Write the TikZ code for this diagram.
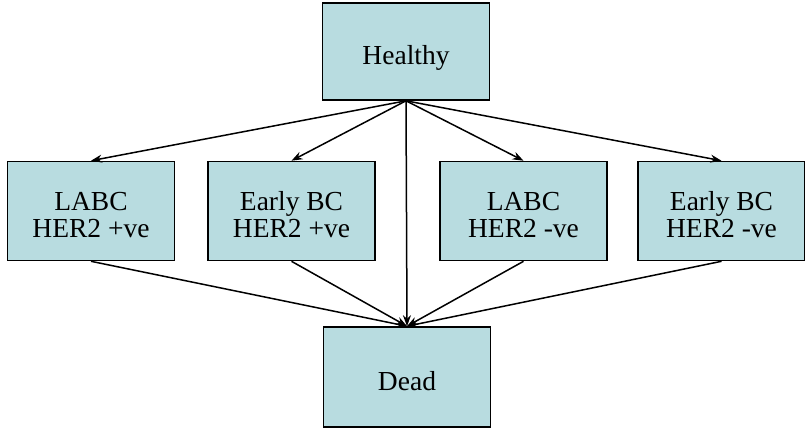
\documentclass[tikz,border=0pt]{standalone}
\usepackage{fontspec}
\setmainfont{Liberation Serif}
\usetikzlibrary{arrows.meta}
\definecolor{boxblue}{RGB}{184,220,224}

\begin{document}
\begin{tikzpicture}[x=1pt,y=-1pt,
    state/.style={draw,fill=boxblue,line width=1.6pt,minimum width=167pt,minimum height=99pt,
      align=center,inner sep=0pt,text height=26pt,text depth=0pt,font=\fontsize{27.5}{26.5}\selectfont},
    twoline/.style={state,text height=52.5pt},
    trans/.style={line width=1.5pt,-{Stealth[length=11pt,width=8pt]}}]

\useasboundingbox (0,0) rectangle (805,433);

\node[state,minimum height=97pt] (healthy) at (406,51.5) {Healthy};
\node[twoline] (labcpos) at (91,211) {LABC\\HER2 +ve};
\node[twoline] (earlypos) at (291.5,211) {Early BC\\HER2 +ve};
\node[twoline] (labcneg) at (523.5,211) {LABC\\HER2 -ve};
\node[twoline] (earlyneg) at (721.5,211) {Early BC\\HER2 -ve};
\node[state,minimum height=100pt] (dead) at (407,377) {Dead};

\draw[trans] (healthy.south) -- (labcpos.north);
\draw[trans] (healthy.south) -- (earlypos.north);
\draw[trans] (healthy.south) -- (labcneg.north);
\draw[trans] (healthy.south) -- (earlyneg.north);
\draw[trans] (healthy.south) -- (dead.north);

\draw[trans] (labcpos.south) -- (dead.north);
\draw[trans] (earlypos.south) -- (dead.north);
\draw[trans] (labcneg.south) -- (dead.north);
\draw[trans] (earlyneg.south) -- (dead.north);
\end{tikzpicture}
\end{document}
